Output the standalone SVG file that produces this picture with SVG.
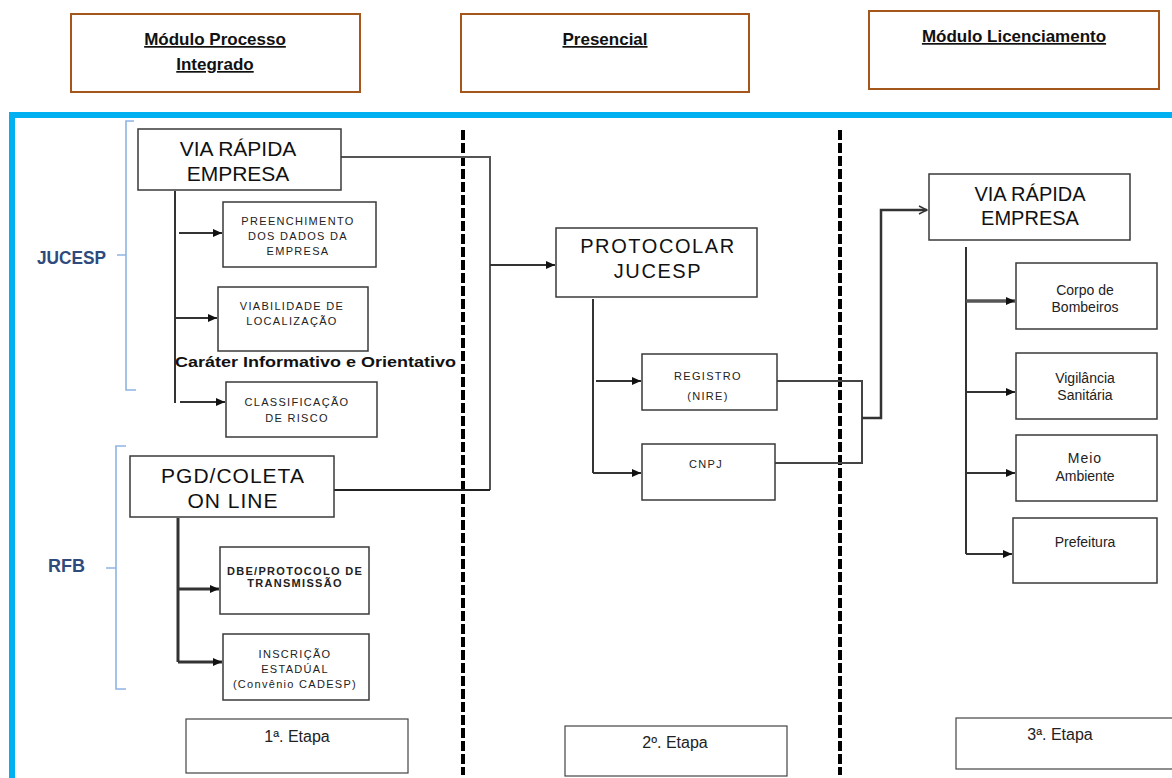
<svg xmlns="http://www.w3.org/2000/svg" width="1172" height="778" viewBox="0 0 1172 778">
<style>
.hdr{fill:#fff;stroke:#a5561b;stroke-width:2}
.htx{font-family:"Liberation Sans",Arial,sans-serif;font-weight:bold;font-size:17px;fill:#111;text-anchor:middle;text-decoration:underline}
.box{fill:#fff;stroke:#3a3a3a;stroke-width:1.5}
.big{font-family:"Liberation Sans",Arial,sans-serif;fill:#111;text-anchor:middle}
.sm{font-family:"Liberation Sans",Arial,sans-serif;fill:#222;text-anchor:middle;font-size:11px;letter-spacing:1.3px}
.md{font-family:"Liberation Sans",Arial,sans-serif;fill:#222;text-anchor:middle;font-size:14px}
.et{font-family:"Liberation Sans",Arial,sans-serif;fill:#222;text-anchor:middle;font-size:16px}
.etb{fill:#fff;stroke:#444;stroke-width:1.2}
.lbl{font-family:"Liberation Sans",Arial,sans-serif;font-weight:bold;fill:#2f4a7c;font-size:18px}
.brk{fill:none;stroke:#8eb4e3;stroke-width:1.6}
.ln{fill:none;stroke:#333;stroke-width:2}
.lnb{fill:none;stroke:#333;stroke-width:3}
.dash{fill:none;stroke:#000;stroke-width:4;stroke-dasharray:10 3}
.blue{fill:none;stroke:#00b0f0;stroke-width:6}
</style>
<defs>
<marker id="ah" markerUnits="userSpaceOnUse" markerWidth="9" markerHeight="8" refX="9" refY="4" orient="auto"><path d="M0,0 L9,4 L0,8 z" fill="#111"/></marker>
<marker id="oh" markerUnits="userSpaceOnUse" markerWidth="10" markerHeight="10" refX="9" refY="5" orient="auto"><path d="M1,1 L9,5 L1,9" fill="none" stroke="#333" stroke-width="1.5"/></marker>
</defs>
<rect width="1172" height="778" fill="#fff"/>

<g id="headers">
<g id="h-processo"><rect class="hdr" x="71" y="14" width="289" height="78"/><text class="htx" x="215" y="45">Módulo Processo</text><text class="htx" x="215" y="70">Integrado</text></g>
<g id="h-presencial"><rect class="hdr" x="461" y="14" width="288" height="78"/><text class="htx" x="605" y="45">Presencial</text></g>
<g id="h-licenciamento"><rect class="hdr" x="869" y="11" width="290" height="78"/><text class="htx" x="1014" y="42">Módulo Licenciamento</text></g>
</g>

<g id="frame">
<line class="blue" x1="9" y1="115" x2="1172" y2="115"/>
<line class="blue" x1="12" y1="112" x2="12" y2="778"/>
</g>

<g id="dividers">
<line class="dash" x1="463" y1="130" x2="463" y2="775"/>
<line class="dash" x1="840" y1="130" x2="840" y2="775"/>
</g>

<g id="brackets">
<g id="jucesp"><path class="brk" d="M134,121 H126 V390 H136 M117,255 H126"/><text class="lbl" x="37" y="264" textLength="69" lengthAdjust="spacingAndGlyphs">JUCESP</text></g>
<g id="rfb"><path class="brk" d="M126,446 H116 V689 H126 M106,568 H116"/><text class="lbl" x="48" y="572">RFB</text></g>
</g>

<g id="connectors">
<path fill="none" stroke="#555" stroke-width="2" d="M341,157 H490 V490"/>
<path fill="none" stroke="#222" stroke-width="2" d="M334,490 H490"/>
<path class="ln" d="M490,265 H555" marker-end="url(#ah)"/>
<path class="ln" d="M175,191 V403"/>
<path class="ln" d="M179,233 H222" marker-end="url(#ah)"/>
<path class="ln" d="M175,318 H217" marker-end="url(#ah)"/>
<path class="ln" d="M180,402 H225" marker-end="url(#ah)"/>
<path class="lnb" d="M178,518 V662"/>
<path class="lnb" d="M178,589 H219" marker-end="url(#ah)"/>
<path class="lnb" d="M178,662 H222" marker-end="url(#ah)"/>
<path class="ln" d="M593,299 V473"/>
<path class="ln" d="M596,381 H641" marker-end="url(#ah)"/>
<path class="ln" d="M593,473 H641" marker-end="url(#ah)"/>
<path fill="none" stroke="#444" stroke-width="2" d="M777,381 H862 V463 H775"/>
<path fill="none" stroke="#333" stroke-width="2.5" d="M862,418 H881 V210 H927" marker-end="url(#oh)"/>
<path class="ln" d="M966,247 V554"/>
<path fill="none" stroke="#555" stroke-width="3.5" d="M966,301 H1015" marker-end="url(#ah)"/>
<path class="ln" d="M966,392 H1015" marker-end="url(#ah)"/>
<path class="ln" d="M966,473 H1015" marker-end="url(#ah)"/>
<path class="ln" d="M966,554 H1012" marker-end="url(#ah)"/>
</g>

<g id="via-rapida-1"><rect class="box" x="138" y="129" width="203" height="61"/><text class="big" font-size="21" x="238" y="156">VIA RÁPIDA</text><text class="big" font-size="21" x="238" y="181">EMPRESA</text></g>
<g id="preenchimento"><rect class="box" x="223" y="202" width="153" height="65"/><text class="sm" x="298" y="225">PREENCHIMENTO</text><text class="sm" x="298" y="240">DOS DADOS DA</text><text class="sm" x="298" y="255">EMPRESA</text></g>
<g id="viabilidade"><rect class="box" x="218" y="287" width="150" height="64"/><text class="sm" x="292" y="310" letter-spacing="1">VIABILIDADE DE</text><text class="sm" x="292" y="325" letter-spacing="1">LOCALIZAÇÃO</text></g>
<g id="carater"><text font-family="Liberation Sans,Arial,sans-serif" font-weight="bold" font-size="15" fill="#111" x="175" y="367" textLength="281" lengthAdjust="spacingAndGlyphs">Caráter Informativo e Orientativo</text></g>
<g id="classificacao"><rect class="box" x="226" y="382" width="151" height="55"/><text class="sm" x="297" y="406" letter-spacing="1.8">CLASSIFICAÇÃO</text><text class="sm" x="297" y="422" letter-spacing="1.8">DE RISCO</text></g>
<g id="pgd"><rect class="box" x="130" y="456" width="204" height="61"/><text class="big" font-size="21" letter-spacing="1" x="233" y="483">PGD/COLETA</text><text class="big" font-size="21" letter-spacing="1" x="233" y="508">ON LINE</text></g>
<g id="dbe"><rect class="box" x="220" y="547" width="149" height="67"/><text class="sm" font-size="10" font-weight="bold" letter-spacing="1" x="295" y="575">DBE/PROTOCOLO DE</text><text class="sm" font-size="10" font-weight="bold" letter-spacing="1" x="295" y="587">TRANSMISSÃO</text></g>
<g id="inscricao"><rect class="box" x="223" y="634" width="146" height="66"/><text class="sm" font-size="12" letter-spacing="1" x="295" y="658">INSCRIÇÃO</text><text class="sm" font-size="12" letter-spacing="1" x="295" y="673">ESTADÚAL</text><text class="sm" font-size="12" letter-spacing="0.8" x="295" y="688">(Convênio CADESP)</text></g>

<g id="protocolar"><rect class="box" x="556" y="228" width="201" height="69"/><text class="big" font-size="20" letter-spacing="1.6" x="658" y="253">PROTOCOLAR</text><text class="big" font-size="20" letter-spacing="1.6" x="658" y="278">JUCESP</text></g>
<g id="registro"><rect class="box" x="642" y="354" width="135" height="56"/><text class="sm" font-size="12" letter-spacing="0.8" x="708" y="380">REGISTRO</text><text class="sm" font-size="12" letter-spacing="0.8" x="708" y="400">(NIRE)</text></g>
<g id="cnpj"><rect class="box" x="642" y="444" width="133" height="56"/><text class="sm" font-size="12" letter-spacing="0.8" x="706" y="468">CNPJ</text></g>

<g id="via-rapida-2"><rect class="box" x="929" y="174" width="201" height="66"/><text class="big" font-size="20" x="1030" y="201">VIA RÁPIDA</text><text class="big" font-size="20" x="1030" y="225">EMPRESA</text></g>
<g id="bombeiros"><rect class="box" x="1016" y="263" width="141" height="66"/><text class="md" x="1085" y="295">Corpo de</text><text class="md" x="1085" y="312">Bombeiros</text></g>
<g id="vigilancia"><rect class="box" x="1016" y="353" width="141" height="66"/><text class="md" x="1085" y="383">Vigilância</text><text class="md" x="1085" y="400">Sanitária</text></g>
<g id="meio"><rect class="box" x="1016" y="435" width="141" height="66"/><text class="md" x="1085" y="463" letter-spacing="1">Meio</text><text class="md" x="1085" y="481">Ambiente</text></g>
<g id="prefeitura"><rect class="box" x="1013" y="518" width="144" height="65"/><text class="md" x="1085" y="547">Prefeitura</text></g>

<g id="etapa1"><rect class="etb" x="186" y="719" width="222" height="54"/><text class="et" x="297" y="742">1ª. Etapa</text></g>
<g id="etapa2"><rect class="etb" x="565" y="726" width="222" height="50"/><text class="et" x="675" y="748">2º. Etapa</text></g>
<g id="etapa3"><rect class="etb" x="956" y="718" width="220" height="51"/><text class="et" x="1060" y="740">3ª. Etapa</text></g>
</svg>
